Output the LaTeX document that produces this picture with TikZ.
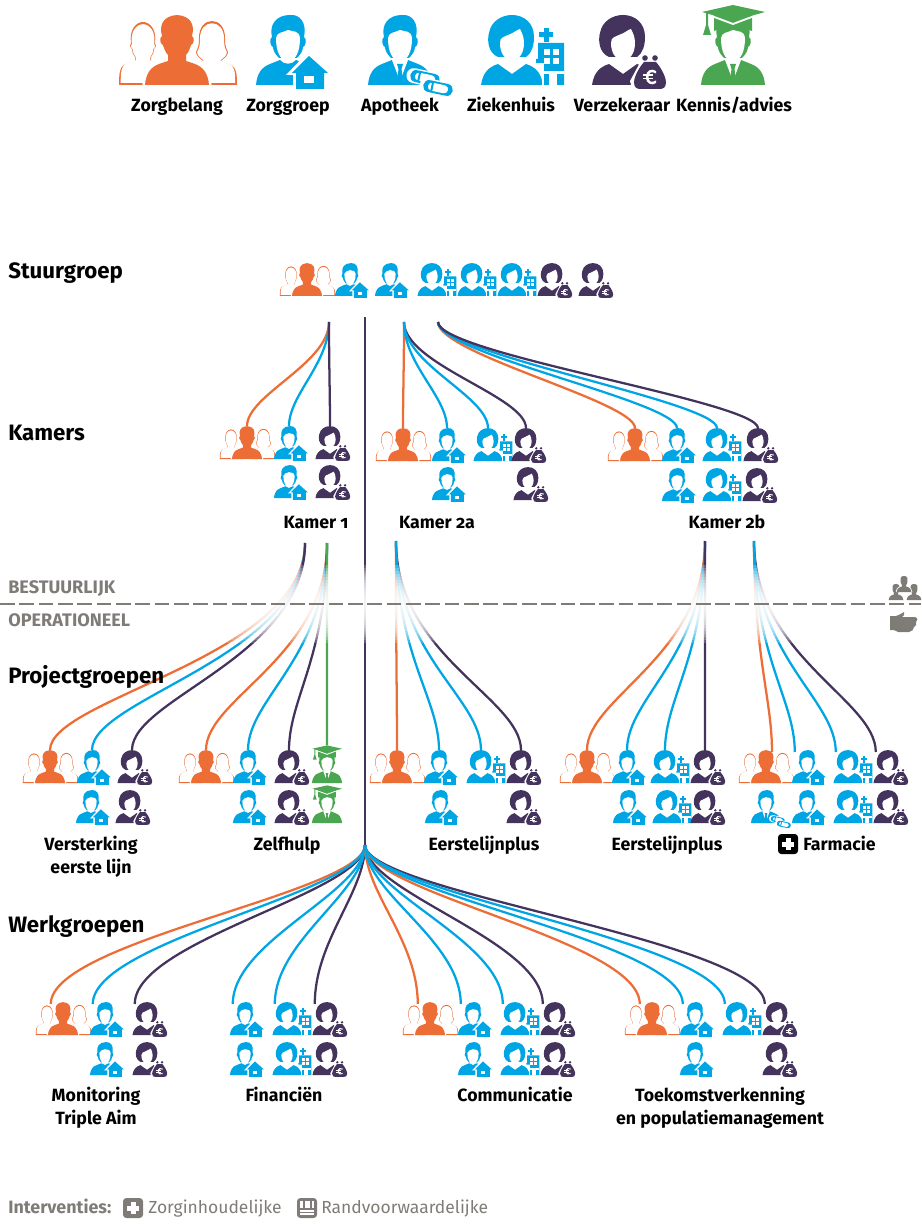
\documentclass[tikz,border=0pt]{standalone}
\usepackage{fontspec}
\setmainfont{Fira Sans}[Numbers=OldStyle]
\usetikzlibrary{calc}

\definecolor{zorange}{HTML}{EC6E36}
\definecolor{zblue}{HTML}{00A5E3}
\definecolor{zpurple}{HTML}{44335C}
\definecolor{zgreen}{HTML}{4AA651}
\definecolor{zgray}{HTML}{7F7C78}

% outlines of the figures, in pixels of the large icon
\newcommand{\manbody}{(-32,0) .. controls (-31,-12) and (-26,-18) .. (-18,-21) -- (-8,-25) .. controls (-4,-20) and (4,-20) .. (8,-25) -- (18,-21) .. controls (26,-18) and (31,-12) .. (32,0) -- cycle}
\newcommand{\manhair}{(-9,-27) .. controls (-13,-31) and (-15,-35) .. (-15,-38) .. controls (-18,-39) and (-19,-46) .. (-16,-48) .. controls (-19,-60) and (-12,-70) .. (2,-70) .. controls (12,-71) and (19,-62) .. (16,-48) .. controls (19,-46) and (18,-39) .. (15,-38) .. controls (15,-35) and (13,-31) .. (9,-27) -- cycle}
\newcommand{\manface}{(0,-24) .. controls (-8,-24) and (-12,-34) .. (-12,-47) .. controls (-11,-53) and (-6,-52) .. (0,-55) .. controls (5,-53) and (11,-55) .. (12,-47) .. controls (12,-34) and (8,-24) .. (0,-24) -- cycle}
\newcommand{\fullman}{(-32,0) .. controls (-31,-12) and (-26,-18) .. (-18,-21) -- (-9,-24) -- (-9,-30) .. controls (-12,-33) and (-13,-37) .. (-14,-40) .. controls (-17,-41) and (-18,-47) .. (-15,-49) .. controls (-18,-60) and (-14,-69) .. (0,-70) .. controls (14,-69) and (18,-60) .. (15,-49) .. controls (18,-47) and (17,-41) .. (14,-40) .. controls (13,-37) and (12,-33) .. (9,-30) -- (9,-24) -- (18,-21) .. controls (26,-18) and (31,-12) .. (32,0) -- cycle}
\newcommand{\sideman}{(-24,0) .. controls (-24,-12) and (-23,-18) .. (-19,-20) -- (-8,-24) -- (-8,-28) .. controls (-10,-30) and (-11,-33) .. (-11,-36) .. controls (-13,-37) and (-14,-40) .. (-12,-42) .. controls (-14,-55) and (-7,-63) .. (0,-63) .. controls (7,-63) and (14,-55) .. (12,-42) .. controls (14,-40) and (13,-37) .. (11,-36) .. controls (11,-33) and (10,-30) .. (8,-28) -- (8,-24) -- (19,-20) .. controls (23,-18) and (24,-12) .. (24,0) -- cycle}
\newcommand{\sidewoman}{(-25,0) .. controls (-25,-12) and (-24,-17) .. (-20,-19) -- (-9,-24) .. controls (-12,-27) and (-16,-29) .. (-16,-33) .. controls (-13,-38) and (-13,-43) .. (-13,-47) .. controls (-13,-58) and (-7,-64) .. (0,-64) .. controls (7,-64) and (13,-58) .. (13,-47) .. controls (13,-43) and (13,-38) .. (16,-33) .. controls (16,-29) and (12,-27) .. (9,-24) -- (20,-19) .. controls (24,-17) and (25,-12) .. (25,0) -- cycle}
\newcommand{\womanbody}{(-31,0) .. controls (-29,-13) and (-23,-18) .. (-14,-21) -- (0,-11) -- (14,-21) .. controls (23,-18) and (29,-13) .. (31,0) -- cycle}
\newcommand{\womanhair}{(-14,-28) .. controls (-24,-32) and (-25,-45) .. (-23,-52) .. controls (-21,-64) and (-10,-70) .. (0,-70) .. controls (12,-70) and (22,-62) .. (22,-48) .. controls (22,-40) and (20,-32) .. (14,-28) -- cycle}
\newcommand{\womanface}{(0,-25) .. controls (-8,-25) and (-12,-33) .. (-12,-42) .. controls (-12,-48) and (-8,-48) .. (-4,-50) .. controls (2,-52) and (6,-56) .. (8,-56) .. controls (10,-52) and (12,-48) .. (12,-42) .. controls (12,-33) and (8,-25) .. (0,-25) -- cycle}
\newcommand{\capsule}{(-9,-6) -- (9,-6) .. controls (17,-6) and (17,6) .. (9,6) -- (-9,6) .. controls (-17,6) and (-17,-6) .. (-9,-6) -- cycle}

\tikzset{
  small/.style={scale=.47},
  itemlabel/.style={font=\bfseries\fontsize{13.3}{17.25}\selectfont, align=center, anchor=base, inner sep=0pt, text=black},
  rowtitle/.style={font=\bfseries\fontsize{16.7}{20}\selectfont, anchor=base west, inner sep=0pt, text=black},
  sidenote/.style={font=\bfseries\fontsize{13.6}{16}\selectfont, anchor=base west, inner sep=0pt, text=zgray},
  legendtext/.style={font=\fontsize{13.1}{16}\selectfont, anchor=base west, inner sep=0pt, text=zgray},
  thread/.style={line width=1.7pt},
  link/.style 2 args={thread, to path={.. controls ($(\tikztostart)!#1!(\tikztostart|-\tikztotarget)$) and ($(\tikztotarget)!#2!(\tikztotarget|-\tikztostart)$) .. (\tikztotarget)}},
  kamerlink/.style={link={.4}{.3}},
  projlink/.style={link={.55}{.25}},
  werklink/.style={link={.3}{.4}},
}

\tikzset{zorgbelang/.pic={code={%
      \coordinate (-top) at (0,-70);
      \coordinate (-left) at (-26,-66);
      \begin{scope}[shift={(-34,0)}]
      \fill [zorange] \sideman;
      \fill [white, shift={(0,-2.2)}, scale=.93] \sideman;
      \end{scope}
      \begin{scope}[shift={(35,0)}]
      \fill [zorange] \sidewoman;
      \fill [white, shift={(0,-2.2)}, scale=.93] \sidewoman;
      \end{scope}
      \fill [white, scale=1.08] \fullman;
      \fill [zorange] \fullman;
}}}

\tikzset{zorggroep/.pic={code={%
      \coordinate (-top) at (0,-70);
      \coordinate (-left) at (-26,-66);
      \fill [zblue] \manbody;
      \fill [zblue] \manhair;
      \fill [white] \manface;
      % house
      \fill [white] (21,-34) -- (-2,-10) -- (5,-10) -- (5,6) -- (39,6) -- (39,-10) -- (44,-10) -- cycle;
      \fill [zblue] (21,-29) -- (4,-12) -- (8,-12) -- (8,4) -- (36,4) -- (36,-12) -- (40,-12) -- cycle;
      \fill [white] (16,-9) rectangle (26,-2);
}}}

\tikzset{apotheek/.pic={code={%
      \coordinate (-top) at (0,-70);
      \coordinate (-left) at (-26,-66);
      \fill [zblue] \manbody;
      \fill [zblue] \manhair;
      \fill [white] \manface;
      % tie on a white collar
      \fill [white] (-8,-25) -- (0,-4) -- (8,-25) -- cycle;
      \fill [zblue] (-3,-21) -- (3,-21) -- (1.5,-16) -- (3,-4) -- (0,-1) -- (-3,-4) -- (-1.5,-16) -- cycle;
      % pills
      \begin{scope}[shift={(25,-7)}, rotate=-12]
      \fill [white, scale=1.25] \capsule;
      \fill [zblue] \capsule;
      \fill [white, scale=.68] \capsule;
      \fill [zblue] (-7,-5) rectangle (-5,5);
      \end{scope}
      \begin{scope}[shift={(38,3)}, rotate=-12]
      \fill [white, scale=1.25] \capsule;
      \fill [zblue] \capsule;
      \fill [white, scale=.68] \capsule;
      \fill [zblue] (-7,-5) rectangle (-5,5);
      \end{scope}
}}}

\tikzset{ziekenhuis/.pic={code={%
      \coordinate (-top) at (0,-70);
      \coordinate (-left) at (-26,-66);
      \fill [zblue] \womanbody;
      \fill [zblue] \womanhair;
      \fill [white] \womanface;
      % hospital
      \fill [white] (24,-45) -- (54,-45) -- (54,1) -- (30,1) -- (30,-20) -- (22,-20) -- (22,-45) -- cycle;
      \fill [zblue] (26,-42) -- (52,-42) -- (52,0) -- (32,0) -- (32,-22) -- (24,-22) -- (24,-26) -- (26,-26) -- cycle;
      \fill [zblue] (32,-57) rectangle (36.5,-43);
      \fill [zblue] (27,-52.5) rectangle (41,-48);
      \fill [white] (32,-36) rectangle (38,-30);
      \fill [white] (41,-36) rectangle (47,-30);
      \fill [white] (32,-27) rectangle (38,-21);
      \fill [white] (41,-27) rectangle (47,-21);
      \fill [white] (32,-14) rectangle (52,-11);
      \fill [white] (37,-11) rectangle (45,0);
}}}

\tikzset{verzekeraar/.pic={code={%
      \coordinate (-top) at (0,-70);
      \coordinate (-left) at (-26,-66);
      \fill [zpurple] \womanbody;
      \fill [zpurple] \womanhair;
      \fill [white] \womanface;
      % money bag
      \fill [white] (19,-26) -- (35,-26) -- (47,-4) -- (44,7) -- (10,7) -- (7,-4) -- cycle;
      \fill [zpurple] (21,-23) .. controls (14,-15) and (11,-6) .. (11,-3) .. controls (11,3) and (14,4) .. (18,4) -- (36,4) .. controls (40,4) and (43,3) .. (43,-3) .. controls (43,-6) and (40,-15) .. (33,-23) -- cycle;
      \fill [zpurple] (22,-27) circle [radius=2.8];
      \fill [zpurple] (32,-27) circle [radius=2.8];
      \begin{scope}[shift={(28,-8)}]
      \fill [white] (5,-6) .. controls (1,-9) and (-5,-7) .. (-5,0) .. controls (-5,7) and (1,9) .. (5,6) -- (5,3.5) .. controls (1,6) and (-2.5,5) .. (-2.5,0) .. controls (-2.5,-5) and (1,-6) .. (5,-3.5) -- cycle;
      \fill [white] (-8,-2.5) rectangle (2,-1);
      \fill [white] (-8,1) rectangle (2,2.5);
      \end{scope}
}}}

\tikzset{kennis/.pic={code={%
      \coordinate (-top) at (0,-80);
      \coordinate (-left) at (-26,-66);
      \fill [zgreen] \manbody;
      \fill [zgreen] \manhair;
      \fill [white] \manface;
      \fill [white] (-8,-25) -- (0,-4) -- (8,-25) -- cycle;
      \fill [zgreen] (-3,-21) -- (3,-21) -- (1.5,-16) -- (3,-4) -- (0,-1) -- (-3,-4) -- (-1.5,-16) -- cycle;
      % cap
      \fill [zgreen] (-19,-70) -- (19,-70) -- (19,-54) .. controls (8,-59) and (-8,-59) .. (-19,-54) -- cycle;
      \fill [white] (-24,-71) -- (0,-62) -- (24,-71) -- (24,-69) -- (0,-60) -- (-24,-69) -- cycle;
      \fill [zgreen] (0,-80) -- (32,-73) -- (0,-64) -- (-31,-73) -- cycle;
      \fill [zgreen] (-27,-73) -- (-25,-73) -- (-25,-60) -- (-22,-50) -- (-30,-50) -- (-27,-60) -- cycle;
}}}

\tikzset{crowd/.pic={code={%
      \fill [white, scale=1.12] \fullman;
      \fill [zgray] \fullman;
}}}

\begin{document}
\begin{tikzpicture}[x=.75pt, y=-.75pt]
    \useasboundingbox (0,0) rectangle (921,1226);

    % the key at the top
    \pic at (177,85) {zorgbelang};
    \pic at (288,85) {zorggroep};
    \pic at (400,85) {apotheek};
    \pic at (512,85) {ziekenhuis};
    \pic at (623,85) {verzekeraar};
    \pic at (733,85) {kennis};
    \node [itemlabel] (keyzb) at (177,112) {Zorgbelang};
    \node [itemlabel] (keyzg) at (288,112) {Zorggroep};
    \node [itemlabel] (keyap) at (400,112) {Apotheek};
    \node [itemlabel] (keyzh) at (511,112) {Ziekenhuis};
    \node [itemlabel] (keyvz) at (622,112) {Verzekeraar};
    \node [itemlabel] (keykn) at (734,112) {Kennis/advies};

    % stuurgroep
    \pic [small] at (307,296) {zorgbelang};
    \pic [small] at (350,296) {zorggroep};
    \pic [small] at (390,296) {zorggroep};
    \pic [small] at (432,296) {ziekenhuis};
    \pic [small] at (472,296) {ziekenhuis};
    \pic [small] at (512,296) {ziekenhuis};
    \pic [small] at (552,296) {verzekeraar};
    \pic [small] at (593,296) {verzekeraar};

    % kamers
    \pic [small] (kaa) at (247,459) {zorgbelang};
    \pic [small] (kab) at (289,459) {zorggroep};
    \pic [small] (kac) at (330,459) {verzekeraar};
    \pic [small] at (289,498) {zorggroep};
    \pic [small] at (330,498) {verzekeraar};

    \pic [small] (kba) at (403,461) {zorgbelang};
    \pic [small] (kbb) at (447,461) {zorggroep};
    \pic [small] (kbc) at (488,461) {ziekenhuis};
    \pic [small] (kbd) at (526,461) {verzekeraar};
    \pic [small] at (447,500) {zorggroep};
    \pic [small] at (528,500) {verzekeraar};

    \pic [small] (kca) at (635,461) {zorgbelang};
    \pic [small] (kcb) at (677,461) {zorggroep};
    \pic [small] (kcc) at (717,461) {ziekenhuis};
    \pic [small] (kcd) at (758,461) {verzekeraar};
    \pic [small] at (677,501) {zorggroep};
    \pic [small] at (717,501) {ziekenhuis};
    \pic [small] at (757,501) {verzekeraar};

    % projectgroepen
    \pic [small] (paa) at (50,783) {zorgbelang};
    \pic [small] (pab) at (92,783) {zorggroep};
    \pic [small] (pac) at (132,783) {verzekeraar};
    \pic [small] at (91,823) {zorggroep};
    \pic [small] at (130,823) {verzekeraar};

    \pic [small] (pba) at (206,783) {zorgbelang};
    \pic [small] (pbb) at (248,783) {zorggroep};
    \pic [small] (pbc) at (289,783) {verzekeraar};
    \pic [small] (pbd) at (327,783) {kennis};
    \pic [small] at (248,823) {zorggroep};
    \pic [small] at (289,823) {verzekeraar};
    \pic [small] at (327,823) {kennis};

    \pic [small] (pca) at (397,783) {zorgbelang};
    \pic [small] (pcb) at (439,783) {zorggroep};
    \pic [small] (pcc) at (481,783) {ziekenhuis};
    \pic [small] (pcd) at (521,783) {verzekeraar};
    \pic [small] at (440,823) {zorggroep};
    \pic [small] at (521,823) {verzekeraar};

    \pic [small] (pda) at (587,783) {zorgbelang};
    \pic [small] (pdb) at (627,783) {zorggroep};
    \pic [small] (pdc) at (665,783) {ziekenhuis};
    \pic [small] (pdd) at (705,783) {verzekeraar};
    \pic [small] at (628,823) {zorggroep};
    \pic [small] at (667,823) {ziekenhuis};
    \pic [small] at (705,823) {verzekeraar};

    \pic [small] at (766,783) {zorgbelang};
    \pic [small] (peb) at (807,783) {zorggroep};
    \pic [small] (pec) at (848,783) {ziekenhuis};
    \pic [small] (ped) at (888,783) {verzekeraar};
    \pic [small] at (766,823) {apotheek};
    \pic [small] at (807,823) {zorggroep};
    \pic [small] at (848,823) {ziekenhuis};
    \pic [small] at (888,823) {verzekeraar};

    % werkgroepen
    \pic [small] (waa) at (63,1035) {zorgbelang};
    \pic [small] (wab) at (105,1035) {zorggroep};
    \pic [small] (wac) at (147,1035) {verzekeraar};
    \pic [small] at (105,1075) {zorggroep};
    \pic [small] at (147,1075) {verzekeraar};

    \pic [small] (wba) at (245,1035) {zorggroep};
    \pic [small] (wbb) at (287,1035) {ziekenhuis};
    \pic [small] (wbc) at (327,1035) {verzekeraar};
    \pic [small] at (245,1075) {zorggroep};
    \pic [small] at (287,1075) {ziekenhuis};
    \pic [small] at (327,1075) {verzekeraar};

    \pic [small] (wca) at (430,1035) {zorgbelang};
    \pic [small] (wcb) at (473,1035) {zorggroep};
    \pic [small] (wcc) at (515,1035) {ziekenhuis};
    \pic [small] (wcd) at (555,1035) {verzekeraar};
    \pic [small] at (473,1075) {zorggroep};
    \pic [small] at (515,1075) {ziekenhuis};
    \pic [small] at (555,1075) {verzekeraar};

    \pic [small] (wda) at (652,1035) {zorgbelang};
    \pic [small] (wdb) at (695,1035) {zorggroep};
    \pic [small] (wdc) at (737,1035) {ziekenhuis};
    \pic [small] (wdd) at (777,1035) {verzekeraar};
    \pic [small] at (695,1075) {zorggroep};
    \pic [small] at (777,1075) {verzekeraar};

    % points the threads leave from
    \coordinate (spine) at (365,317);
    \coordinate (hubW) at (365,845);
    \coordinate (hubKA) at (329,322);
    \coordinate (hubKB) at (404,322);
    \coordinate (hubKC) at (438,322);
    \coordinate (hubPA) at (305,543);
    \coordinate (hubPB) at (327,543);
    \coordinate (hubPC) at (396,541);
    \coordinate (hubPD) at (705,541);
    \coordinate (hubPE) at (754,541);
    \coordinate (peaend) at (772,752);

    % threads to the kamers
    \draw [kamerlink, zorange] (hubKA) to (kaa-top);
    \draw [kamerlink, zblue] (hubKA) to (kab-top);
    \draw [kamerlink, zpurple] (hubKA) to (kac-top);
    \draw [kamerlink, zorange] (hubKB) to (kba-top);
    \draw [kamerlink, zpurple] (hubKB) to (kbd-top);
    \draw [kamerlink, zblue] (hubKB) to (kbb-top);
    \draw [kamerlink, zblue] (hubKB) to (kbc-top);
    \draw [link={.3}{.25}, zorange] (hubKC) to (kca-top);
    \draw [link={.3}{.25}, zblue] (hubKC) to (kcb-top);
    \draw [link={.3}{.25}, zblue] (hubKC) to (kcc-top);
    \draw [link={.3}{.25}, zpurple] (hubKC) to (kcd-top);

    % threads to the projectgroepen
    \draw [projlink, zorange] (hubPA) to (paa-top);
    \draw [projlink, zblue] (hubPA) to (pab-top);
    \draw [projlink, zpurple] (hubPA) to (pac-top);
    \draw [projlink, zorange] (hubPB) to (pba-top);
    \draw [projlink, zblue] (hubPB) to (pbb-top);
    \draw [projlink, zpurple] (hubPB) to (pbc-top);
    \draw [projlink, zgreen] (hubPB) to (pbd-top);
    \draw [projlink, zorange] (hubPC) to (pca-top);
    \draw [projlink, zpurple] (hubPC) to (pcd-top);
    \draw [projlink, zblue] (hubPC) to (pcb-top);
    \draw [projlink, zblue] (hubPC) to (pcc-top);
    \draw [projlink, zorange] (hubPD) to (pda-top);
    \draw [projlink, zblue] (hubPD) to (pdb-top);
    \draw [projlink, zblue] (hubPD) to (pdc-top);
    \draw [projlink, zpurple] (hubPD) to (pdd-top);
    \draw [projlink, zorange] (hubPE) to (peaend);
    \draw [projlink, zpurple] (hubPE) to (ped-left);
    \draw [projlink, zblue] (hubPE) to (peb-left);
    \draw [projlink, zblue] (hubPE) to (pec-left);

    % threads to the werkgroepen
    \draw [werklink, zorange] (hubW) to (waa-left);
    \draw [werklink, zpurple] (hubW) to (wac-left);
    \draw [werklink, zblue] (hubW) to (wab-left);
    \draw [werklink, zpurple] (hubW) to (wbc-left);
    \draw [werklink, zblue] (hubW) to (wba-left);
    \draw [werklink, zblue] (hubW) to (wbb-left);
    \draw [werklink, zorange] (hubW) to (wca-left);
    \draw [werklink, zpurple] (hubW) to (wcd-left);
    \draw [werklink, zblue] (hubW) to (wcb-left);
    \draw [werklink, zblue] (hubW) to (wcc-left);
    \draw [werklink, zorange] (hubW) to (wda-left);
    \draw [werklink, zpurple] (hubW) to (wdd-left);
    \draw [werklink, zblue] (hubW) to (wdb-left);
    \draw [werklink, zblue] (hubW) to (wdc-left);

    % the central line
    \draw [line width=1.9pt, zpurple] (spine) -- (hubW);

    % threads fade out at the border, white veils on top of each other
    \foreach \h in {3,6,...,39} {
      \fill [white, opacity=.2] (190,604-\h) rectangle (800,604+\h);
    }
    \coordinate (borderL) at (0,604);
    \coordinate (borderR) at (921,604);
    \draw [line width=1.5pt, zgray, dash pattern=on 11pt off 3.5pt] (borderL) -- (borderR);

    % side icons
    \pic [scale=.23] at (896,600) {crowd};
    \pic [scale=.23] at (914,600) {crowd};
    \pic [scale=.23] at (904,592) {crowd};
    % hand
    \fill [zgray] (890,616) -- (896,616) .. controls (899,616) and (901,613) .. (904,612) .. controls (905,614) and (904,616) .. (902,617) -- (915,617) .. controls (918,618) and (918,621) .. (916,622) .. controls (917,624) and (916,626) .. (914,627) .. controls (914,630) and (912,631) .. (909,632) -- (898,632) .. controls (896,631) and (895,630) .. (893,630) -- (890,630) -- cycle;

    % row titles
    \node [rowtitle] (ttstuur) at (8,279) {Stuurgroep};
    \node [rowtitle] (ttkamer) at (8,440) {Kamers};
    \node [rowtitle] (ttproj) at (8,683) {Projectgroepen};
    \node [rowtitle] (ttwerk) at (8,932) {Werkgroepen};
    \node [sidenote] (ttbest) at (8,593) {BESTUURLIJK};
    \node [sidenote] (ttoper) at (8,626) {OPERATIONEEL};

    % group labels
    \node [itemlabel] (lbka) at (316,528) {Kamer 1};
    \node [itemlabel] (lbkb) at (437,528) {Kamer 2a};
    \node [itemlabel] (lbkc) at (727,528) {Kamer 2b};
    \node [itemlabel, anchor=north] (lbpa) at (91,836) {Versterking\\eerste lijn};
    \node [itemlabel] (lbpb) at (287,850) {Zelfhulp};
    \node [itemlabel] (lbpc) at (484,850) {Eerstelijnplus};
    \node [itemlabel] (lbpd) at (667,850) {Eerstelijnplus};
    \node [itemlabel, anchor=base west] (lbpe) at (803,850) {Farmacie};
    \fill [black, rounded corners=2.5pt] (778,834) rectangle (798,854);
    \fill [white] (785.5,838) rectangle (790.5,850);
    \fill [white] (782,841.5) rectangle (794,846.5);
    \node [itemlabel, anchor=north] (lbwa) at (96,1087) {Monitoring\\Triple Aim};
    \node [itemlabel] (lbwb) at (284,1101) {Financiën};
    \node [itemlabel] (lbwc) at (515,1101) {Communicatie};
    \node [itemlabel, anchor=north] (lbwd) at (720,1087) {Toekomstverkenning\\en populatiemanagement};

    % interventies
    \node [legendtext, font=\bfseries\fontsize{13.4}{16}\selectfont] (lgint) at (8,1213) {Interventies:};
    \fill [zgray, rounded corners=2.5pt] (123,1198) rectangle (143,1218);
    \fill [white] (130.5,1202) rectangle (135.5,1214);
    \fill [white] (127,1205.5) rectangle (139,1210.5);
    \node [legendtext] (lgzorg) at (148,1213) {Zorginhoudelijke};
    \fill [zgray, rounded corners=2.5pt] (297,1198) rectangle (317,1218);
    \fill [white] (300,1201) rectangle (314,1215);
    \fill [zgray] (300,1208) rectangle (314,1209.5);
    \fill [zgray] (300,1211.5) rectangle (314,1213);
    \fill [zgray] (303,1201) rectangle (304.5,1208);
    \fill [zgray] (310,1201) rectangle (311.5,1208);
    \node [legendtext] (lgrand) at (321,1213) {Randvoorwaardelijke};
\end{tikzpicture}
\end{document}
